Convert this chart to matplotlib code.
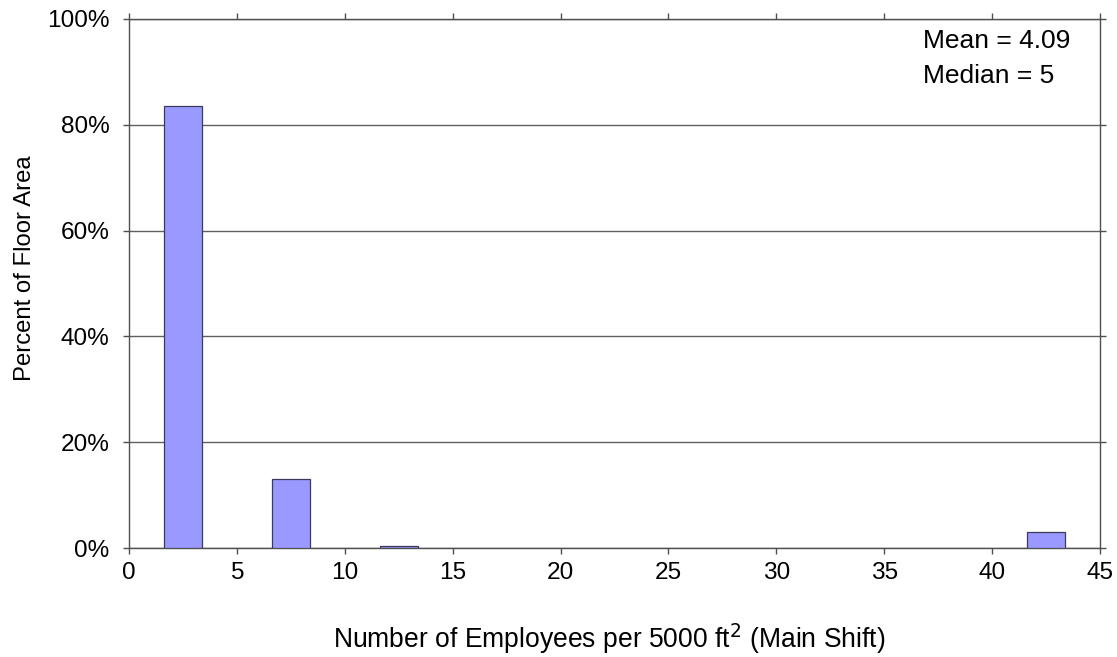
import matplotlib
matplotlib.use("Agg")
import matplotlib.pyplot as plt
from matplotlib.ticker import FuncFormatter

plt.rcParams['font.family'] = ['Liberation Sans', 'DejaVu Sans']

bin_centers = [2.5, 7.5, 12.5, 42.5]
percent_area = [83.5, 13.1, 0.4, 3.0]
x_ticks = [0, 5, 10, 15, 20, 25, 30, 35, 40, 45]
y_ticks = [0, 20, 40, 60, 80, 100]
stats_lines = ["Mean = 4.09", "Median = 5"]

fig = plt.figure(figsize=(11.17, 6.57), dpi=100)
ax = fig.add_axes([0.1155, 0.1659, 0.8693, 0.8052])

ax.bar(bin_centers, percent_area, width=1.76, color='#9999FF',
       edgecolor='#3a3a5a', linewidth=0.9, zorder=3)

ax.set_xlim(0, 45)
ax.set_ylim(0, 100)
ax.set_xticks(x_ticks)
ax.set_yticks(y_ticks)
ax.yaxis.set_major_formatter(FuncFormatter(lambda v, p: f"{int(v)}%"))
ax.grid(axis='y', color='#606060', linewidth=1.0, zorder=1)
ax.set_axisbelow(True)

for s in ax.spines.values():
    s.set_color('#505050')
    s.set_linewidth(1.0)

ax.tick_params(axis='both', direction='out', length=4, width=1, color='#505050',
               labelsize=17.6, top=True, right=True, labeltop=False, labelright=False)
ax.tick_params(axis='x', pad=6)
ax.tick_params(axis='y', pad=10)

ax.set_ylabel("Percent of Floor Area", fontsize=17.2, labelpad=8, y=0.529)
ax.set_xlabel("Number of Employees per 5000 ft$^2$ (Main Shift)", fontsize=19.1,
              labelpad=27, x=0.494)

for i, line in enumerate(stats_lines):
    ax.text(0.818, 0.945 - i * 0.0656, line, transform=ax.transAxes, fontsize=19,
            va='baseline', ha='left')

fig.savefig("out.png", dpi=100)
